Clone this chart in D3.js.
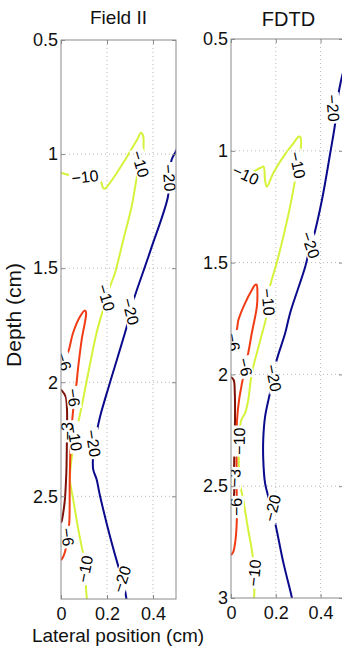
<!DOCTYPE html>
<html><head><meta charset="utf-8">
<script src="https://cdn.jsdelivr.net/npm/d3@7"></script>
<style>html,body{margin:0;padding:0;overflow:hidden;background:#fff}</style>
</head><body><svg id="c" width="342" height="648"></svg>
<script>
// ---------- data ----------
const xTicks = [0, 0.2, 0.4];
const yTicksField = [0.5, 1, 1.5, 2, 2.5];
const yTicksFdtd = [0.5, 1, 1.5, 2, 2.5, 3];
const levels = [-20, -10, -6, -3];
const levelColors = ["#0a0a8c", "#d6f23a", "#f03c14", "#7e1208"];

// Field II contours [lateral cm, depth cm]
const fieldM20 = [[0.505,0.975],[0.496,0.995],[0.481,1.025],[0.472,1.100],[0.465,1.187],[0.390,1.420],[0.313,1.647],[0.302,1.690],[0.286,1.756],[0.213,2.001],[0.170,2.150],[0.155,2.220],[0.140,2.316],[0.140,2.382],[0.155,2.426],[0.170,2.500],[0.249,2.806],[0.270,2.870],[0.286,2.960]];
const fieldM10 = [[0,1.082],[0.030,1.091],[0.104,1.100],[0.170,1.117],[0.183,1.148],[0.191,1.152],[0.213,1.126],[0.243,1.082],[0.287,1.012],[0.330,0.938],[0.348,0.907],[0.357,0.920],[0.359,0.960],[0.357,0.995],[0.343,1.043],[0.330,1.100],[0.307,1.231],[0.271,1.375],[0.235,1.520],[0.213,1.581],[0.183,1.682],[0.155,1.782],[0.119,1.957],[0.090,2.106],[0.075,2.176],[0.061,2.237],[0.047,2.325],[0.039,2.426],[0.053,2.513],[0.075,2.644],[0.094,2.741],[0.109,2.819],[0.109,2.907],[0.114,2.960]];
const fieldM6 = [[0,1.944],[0.013,1.905],[0.032,1.865],[0.053,1.782],[0.083,1.712],[0.104,1.686],[0.109,1.695],[0.090,1.813],[0.075,1.931],[0.066,2.019],[0.053,2.119],[0.043,2.250],[0.038,2.426],[0.036,2.614],[0.028,2.679],[0.017,2.745],[0.003,2.776],[0,2.778]];
const fieldM3 = [[0,2.032],[0.020,2.062],[0.026,2.119],[0.026,2.220],[0.024,2.369],[0.022,2.426],[0.017,2.513],[0.010,2.570],[0.003,2.609],[0,2.615]];

// FDTD contours
const fdtdM20 = [[0.510,0.620],[0.497,0.661],[0.470,0.809],[0.465,0.876],[0.443,1.010],[0.406,1.220],[0.368,1.386],[0.353,1.430],[0.331,1.520],[0.264,1.725],[0.242,1.815],[0.204,1.936],[0.188,2.016],[0.174,2.083],[0.152,2.190],[0.144,2.290],[0.144,2.380],[0.152,2.486],[0.170,2.560],[0.197,2.665],[0.234,2.843],[0.272,3.000],[0.275,3.020]];
const fdtdM10 = [[0,1.101],[0.063,1.108],[0.130,1.077],[0.145,1.071],[0.152,1.131],[0.160,1.161],[0.189,1.099],[0.234,1.026],[0.279,0.966],[0.301,0.937],[0.309,0.938],[0.312,0.982],[0.295,1.064],[0.286,1.131],[0.249,1.318],[0.204,1.502],[0.174,1.608],[0.167,1.681],[0.160,1.734],[0.125,1.869],[0.093,1.994],[0.077,2.114],[0.063,2.173],[0.046,2.204],[0.037,2.293],[0.038,2.472],[0.055,2.562],[0.077,2.696],[0.093,2.785],[0.104,2.888],[0.103,3.010]];
const fdtdM6 = [[0,1.900],[0.010,1.846],[0.026,1.801],[0.033,1.757],[0.063,1.681],[0.093,1.623],[0.107,1.600],[0.114,1.598],[0.118,1.640],[0.115,1.700],[0.093,1.815],[0.077,1.904],[0.063,1.967],[0.046,2.056],[0.036,2.114],[0.027,2.204],[0.025,2.300],[0.025,2.472],[0.026,2.592],[0.026,2.651],[0.020,2.741],[0.010,2.794],[0,2.808]];
const fdtdM3 = [[0,2.012],[0.012,2.025],[0.017,2.083],[0.018,2.190],[0.016,2.300],[0.014,2.428],[0.016,2.472],[0.014,2.530],[0.008,2.606],[0.002,2.620],[0,2.622]];

// contour labels [level, lateral, depth]
const fieldLabels = [[-10,0.104,1.100],[-10,0.345,1.043],[-20,0.470,1.104],[-10,0.196,1.629],[-20,0.302,1.690],[-6,0.012,1.909],[-6,0.055,2.067],[-10,0.060,2.242],[-3,0.028,2.215],[-20,0.140,2.268],[-6,0.028,2.679],[-10,0.105,2.819],[-20,0.265,2.863]];
const fdtdLabels = [[-10,0.065,1.108],[-10,0.297,1.064],[-20,0.455,0.809],[-10,0.166,1.676],[-20,0.355,1.421],[-6,0.010,1.855],[-6,0.063,1.967],[-20,0.190,2.016],[-10,0.037,2.298],[-3,0.016,2.463],[-6,0.026,2.593],[-20,0.185,2.598],[-10,0.104,2.888]];

// ---------- drawing ----------
const FONT = "'Liberation Sans', Arial, Helvetica, sans-serif";
const svg = d3.select("#c");
const fmtLevel = v => String(v).replace("-", "\u2212");

const panels = [
  {id:"f", title:"Field II", titleSize:19, titleY:24, x0:61, x1:176, y0:40, y1:599, yDomain:[0.5,2.95], yTicks:yTicksField,
   contours:[fieldM20, fieldM10, fieldM6, fieldM3], labels:fieldLabels},
  {id:"t", title:"FDTD", titleSize:20, titleY:26, x0:231, x1:343, y0:39, y1:598, yDomain:[0.5,3], yTicks:yTicksFdtd,
   contours:[fdtdM20, fdtdM10, fdtdM6, fdtdM3], labels:fdtdLabels}
];

const defs = svg.append("defs");

panels.forEach(p => {
  const x = d3.scaleLinear().domain([0,0.5]).range([p.x0,p.x1]);
  const y = d3.scaleLinear().domain(p.yDomain).range([p.y0,p.y1]);
  const W = p.x1-p.x0, H = p.y1-p.y0;
  const g = svg.append("g");

  // grid
  xTicks.filter(t => t>0 && t<0.5).forEach(t => {
    g.append("line").attr("x1",x(t)).attr("x2",x(t)).attr("y1",p.y0).attr("y2",p.y1)
      .attr("stroke","#b8b8b8").attr("stroke-width",1).attr("stroke-dasharray","1,3");
  });
  p.yTicks.filter(t => t>p.yDomain[0] && t<p.yDomain[1]).forEach(t => {
    g.append("line").attr("x1",p.x0).attr("x2",p.x1).attr("y1",y(t)).attr("y2",y(t))
      .attr("stroke","#b8b8b8").attr("stroke-width",1).attr("stroke-dasharray","1,3");
  });

  // clip + mask
  defs.append("clipPath").attr("id","clip"+p.id).append("rect")
    .attr("x",p.x0).attr("y",p.y0).attr("width",W).attr("height",H);
  const mask = defs.append("mask").attr("id","mask"+p.id).attr("maskUnits","userSpaceOnUse")
    .attr("x",0).attr("y",0).attr("width",342).attr("height",648);
  mask.append("rect").attr("x",0).attr("y",0).attr("width",342).attr("height",648).attr("fill","#fff");

  const line = d3.line().x(d=>x(d[0])).y(d=>y(d[1])).curve(d3.curveCatmullRom.alpha(0.5));
  const cg = g.append("g").attr("clip-path","url(#clip"+p.id+")");
  const lg = cg.append("g").attr("mask","url(#mask"+p.id+")");
  p.contours.forEach((c,i) => {
    lg.append("path").attr("d",line(c)).attr("fill","none")
      .attr("stroke",levelColors[i]).attr("stroke-width",2).attr("stroke-linejoin","round");
  });

  // labels
  const tg = cg.append("g");
  p.labels.forEach(lb => {
    const c = p.contours[levels.indexOf(lb[0])];
    const px = x(lb[1]), py = y(lb[2]);
    let best = Infinity, ang = 0;
    for (let k=0;k<c.length-1;k++){
      const ax=x(c[k][0]), ay=y(c[k][1]), bx=x(c[k+1][0]), by=y(c[k+1][1]);
      const dx=bx-ax, dy=by-ay, L2=dx*dx+dy*dy||1;
      let t=((px-ax)*dx+(py-ay)*dy)/L2; t=Math.max(0,Math.min(1,t));
      const qx=ax+t*dx-px, qy=ay+t*dy-py, dd=qx*qx+qy*qy;
      if (dd<best){best=dd; ang=Math.atan2(dy,dx)*180/Math.PI;}
    }
    if (ang>90) ang-=180; if (ang<=-90) ang+=180;
    const rot = -ang;
    const txt = tg.append("text").attr("transform",`translate(${px},${py}) rotate(${rot})`)
      .attr("text-anchor","middle").attr("dy","0.35em")
      .attr("font-family",FONT).attr("font-size",16).attr("fill","#000").text(fmtLevel(lb[0]));
    const w = txt.node().getComputedTextLength();
    mask.append("rect").attr("x",-w/2-2).attr("y",-7).attr("width",w+4).attr("height",14)
      .attr("transform",`translate(${px},${py}) rotate(${rot})`).attr("fill","#000");
  });

  // frame
  g.append("rect").attr("x",p.x0).attr("y",p.y0).attr("width",W).attr("height",H)
    .attr("fill","none").attr("stroke","#8a8a8a").attr("stroke-width",1);

  // axes
  const fmt = d => String(d);
  const ax = g.append("g").attr("transform",`translate(${p.x0},0)`)
    .call(d3.axisLeft(y).tickValues(p.yTicks).tickSize(-4).tickPadding(3).tickFormat(fmt));
  const ar = g.append("g").attr("transform",`translate(${p.x1},0)`)
    .call(d3.axisRight(y).tickValues(p.yTicks).tickSize(-4).tickFormat(""));
  const ab = g.append("g").attr("transform",`translate(0,${p.y1})`)
    .call(d3.axisBottom(x).tickValues(xTicks).tickSize(-4).tickPadding(8).tickFormat(fmt));
  const at = g.append("g").attr("transform",`translate(0,${p.y0})`)
    .call(d3.axisTop(x).tickValues(xTicks).tickSize(-4).tickFormat(""));
  [ax,ar,ab,at].forEach(a => {
    a.select(".domain").remove();
    a.selectAll(".tick line").attr("stroke","#8a8a8a");
    a.selectAll("text").attr("font-family",FONT).attr("font-size",18).attr("fill","#111");
  });

  // title
  svg.append("text").attr("x",(p.x0+p.x0+115)/2).attr("y",p.titleY).attr("text-anchor","middle")
    .attr("font-family",FONT).attr("font-size",p.titleSize).attr("fill","#111").text(p.title);
});

svg.append("text").attr("x",118).attr("y",642).attr("text-anchor","middle")
  .attr("font-family",FONT).attr("font-size",19).attr("fill","#111").text("Lateral position (cm)");
svg.append("text").attr("transform","translate(21,315) rotate(-90)").attr("text-anchor","middle")
  .attr("font-family",FONT).attr("font-size",21).attr("fill","#111").text("Depth (cm)");
</script></body></html>
